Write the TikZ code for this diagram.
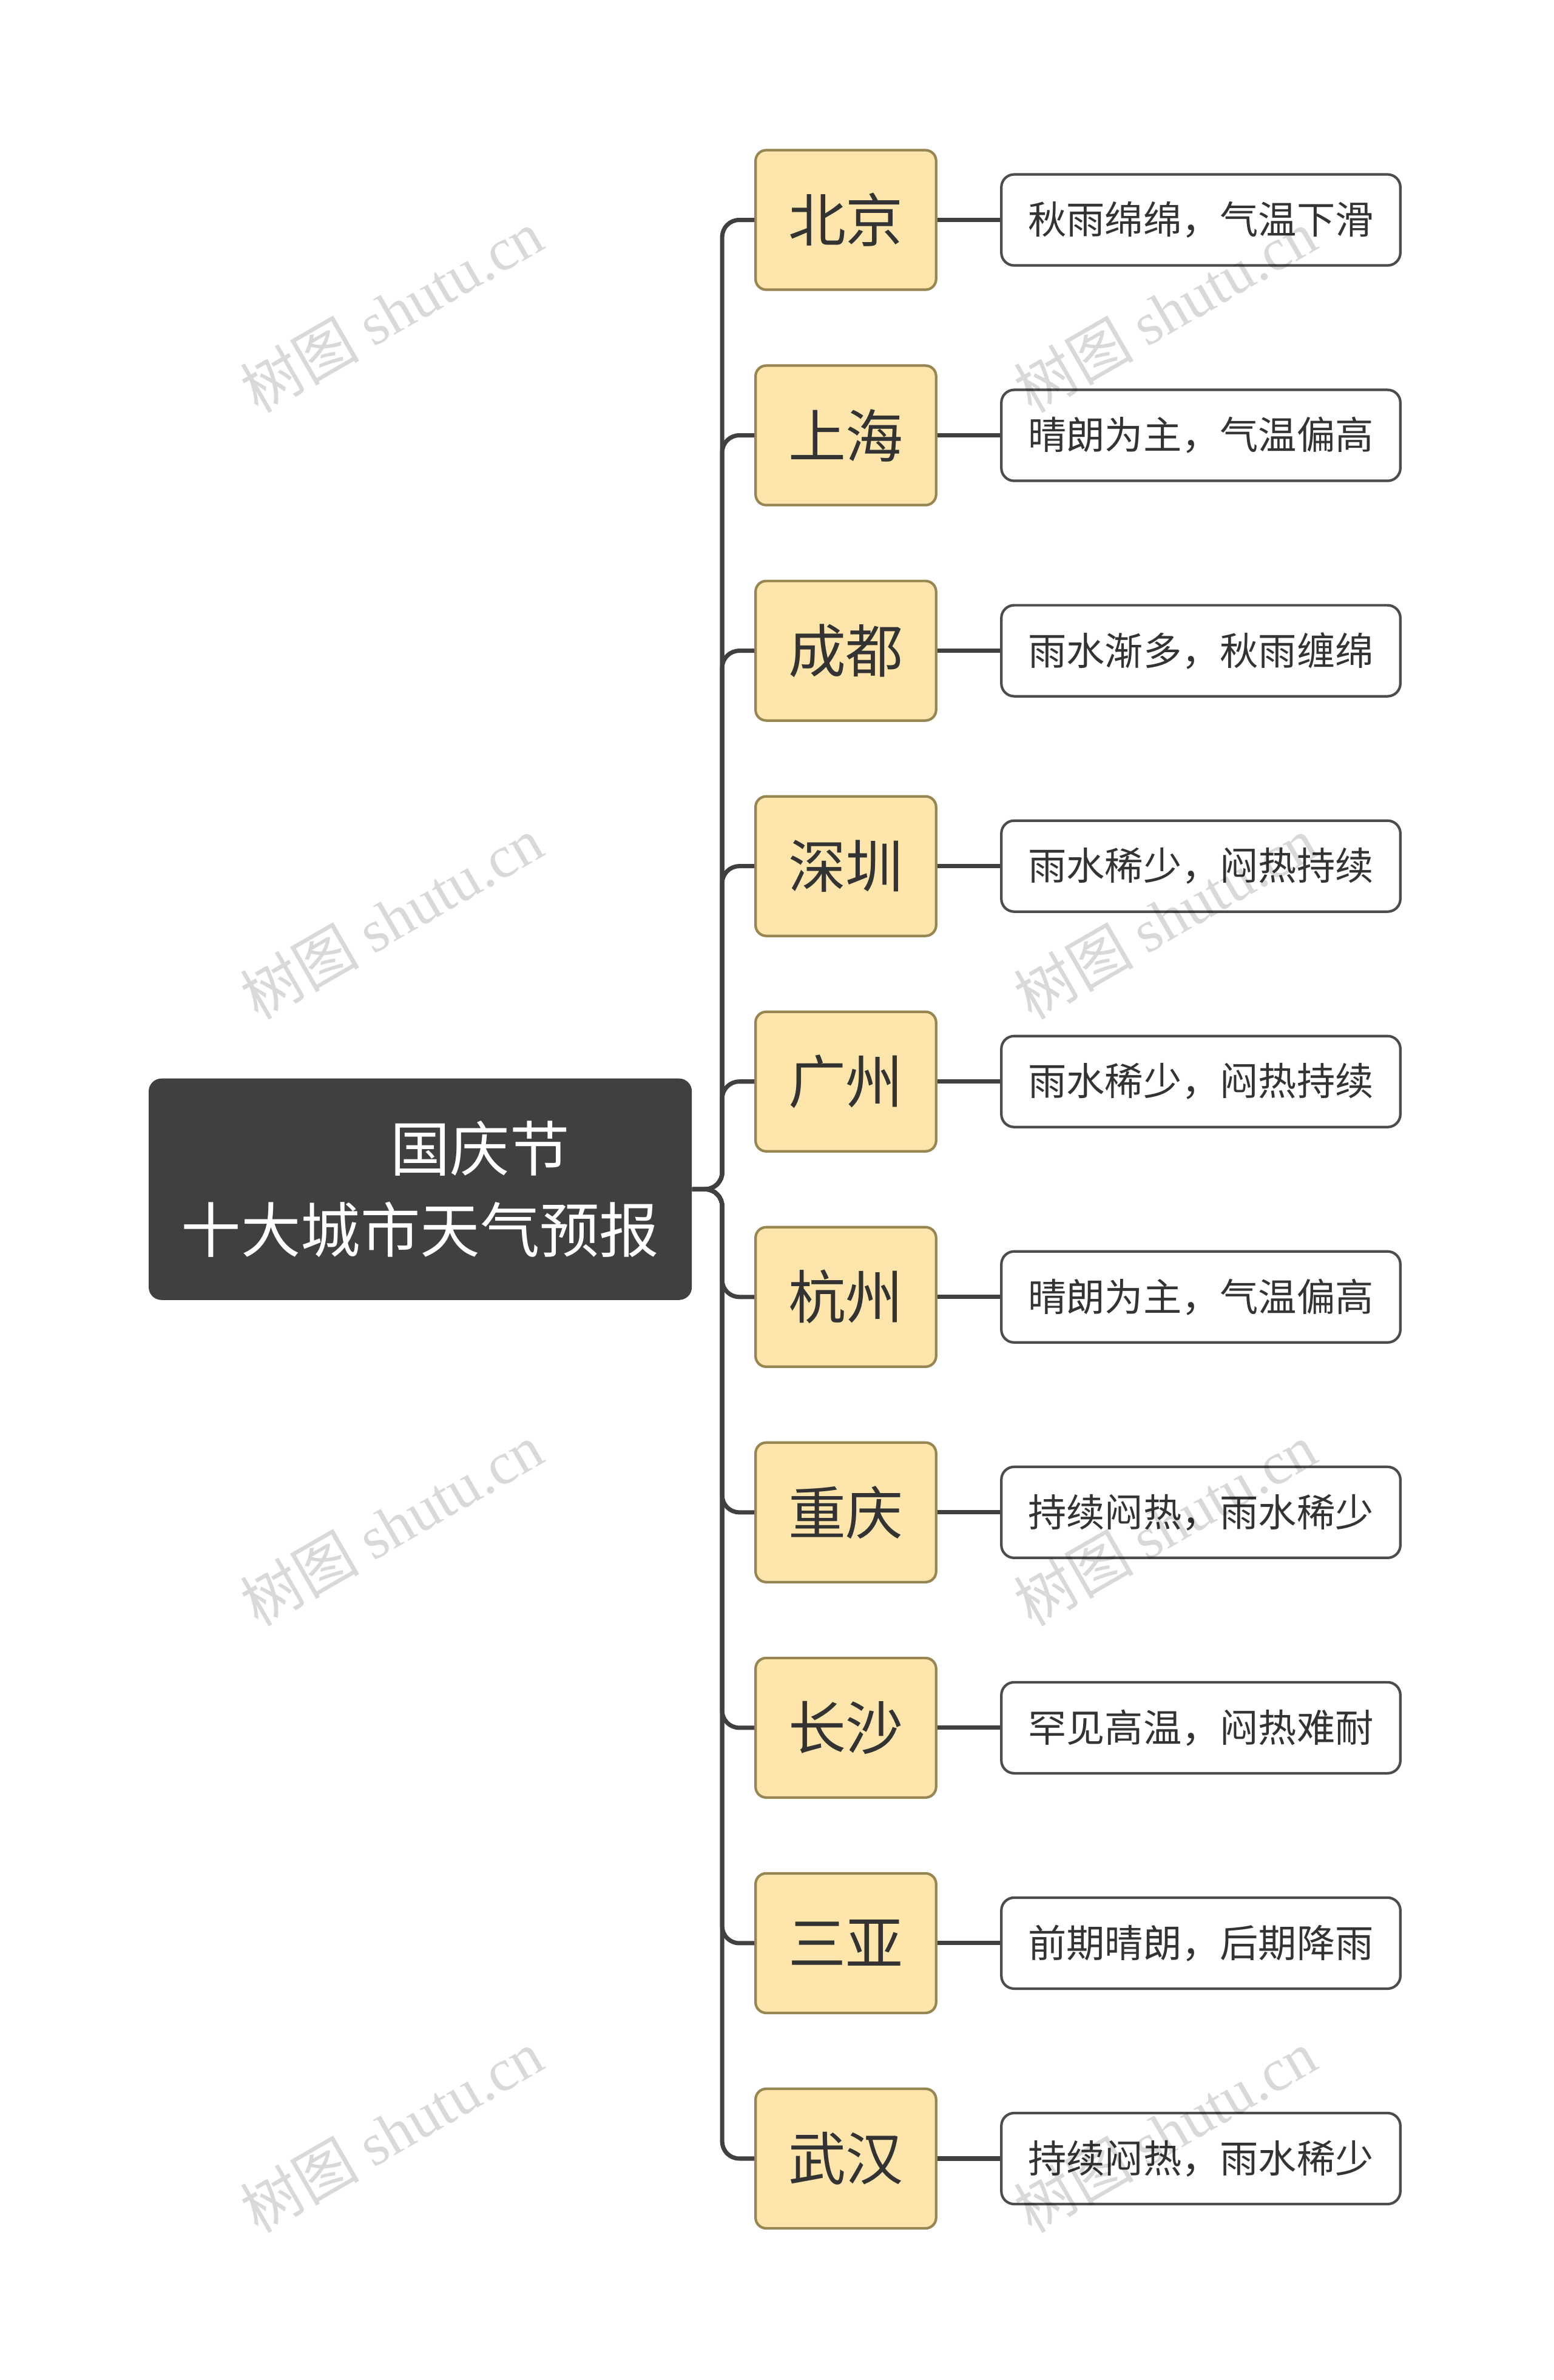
\documentclass[tikz,border=0pt]{standalone}
\usepackage{fontspec}
\setmainfont{Noto Sans CJK SC}
\newfontfamily\wmserif{Liberation Serif}
\begin{document}
\begin{tikzpicture}[x=0.025cm,y=-0.025cm,
 city/.style={draw=black!60!yellow!60!brown,line width=1.2pt,fill=yellow!40!orange!30,rounded corners=5pt,minimum width=119*0.025cm,minimum height=92*0.025cm,font=\fontsize{27}{30}\selectfont,text=black!80,inner sep=0pt},
 desc/.style={draw=black!70,line width=1.2pt,fill=white,rounded corners=6pt,minimum width=263*0.025cm,minimum height=60*0.025cm,font=\fontsize{18}{20}\selectfont,text=black!80,inner sep=0pt},
 link/.style={draw=black!75,line width=2pt},
 wm/.style={text=black,opacity=0.15,rotate=30,font=\fontsize{28}{30}\selectfont}]
\useasboundingbox (0,0) rectangle (1024,1569);
\fill[white] (0,0) rectangle (1024,1569);
\node[fill=black!75,rounded corners=6pt,minimum width=358*0.025cm,minimum height=146*0.025cm,text=white,align=center,font=\fontsize{28}{38}\selectfont,inner sep=0pt] (root) at (277,784) {\hspace*{2em}国庆节\\十大城市天气预报};
\coordinate (bus) at (476,784);
\foreach \i/\c/\d in {0/北京/秋雨绵绵，气温下滑,1/上海/晴朗为主，气温偏高,2/成都/雨水渐多，秋雨缠绵,3/深圳/雨水稀少，闷热持续,4/广州/雨水稀少，闷热持续,5/杭州/晴朗为主，气温偏高,6/重庆/持续闷热，雨水稀少,7/长沙/罕见高温，闷热难耐,8/三亚/前期晴朗，后期降雨,9/武汉/持续闷热，雨水稀少}{
 \node[city] (c\i) at (557.5,145+142*\i) {\c};
 \node[desc] (d\i) at (791.5,145+142*\i) {\d};
 \draw[link] (c\i.east) -- (d\i.west);
 \draw[link,rounded corners=8pt] (root.east) -- (bus) |- (c\i.west);
}
\foreach \x in {258,768}\foreach \y in {205,605,1005,1405}
 \node[wm] at (\x,\y) {树图 {\wmserif shutu.cn}};
\end{tikzpicture}
\end{document}
